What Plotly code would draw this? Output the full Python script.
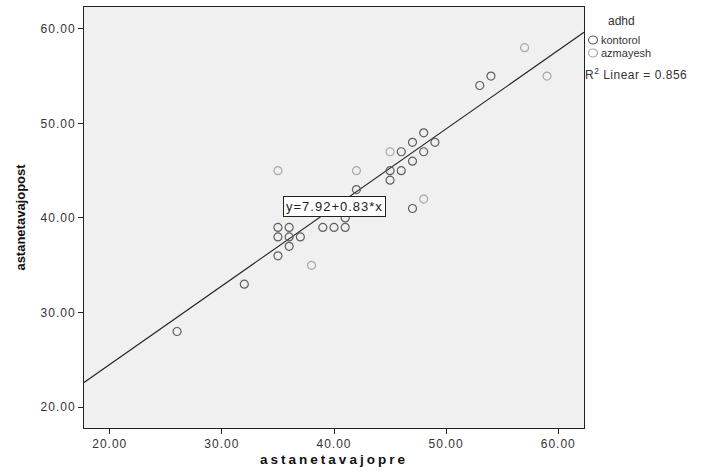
import plotly.graph_objects as go

# ---- data ----
kontorol_x = [26, 32, 35, 36, 35, 36, 37, 35, 36, 39, 40, 41, 41, 42, 45, 45, 46, 47, 46, 48, 47, 49, 48, 47, 53, 54]
kontorol_y = [28, 33, 36, 37, 38, 38, 38, 39, 39, 39, 39, 39, 40, 43, 44, 45, 45, 46, 47, 47, 48, 48, 49, 41, 54, 55]
azmayesh_x = [35, 38, 42, 45, 48, 57, 59]
azmayesh_y = [45, 35, 45, 47, 42, 58, 55]

intercept = 7.92
slope = 0.83
r2 = 0.856

x_ticks = [20, 30, 40, 50, 60]
x_ticklabels = ["20.00", "30.00", "40.00", "50.00", "60.00"]
y_ticks = [20, 30, 40, 50, 60]
y_ticklabels = ["20.00", "30.00", "40.00", "50.00", "60.00"]

x_range = [17.7, 62.3]
y_range = [17.8, 62.3]

W, H = 702, 474
L, R, T, B = 84, 118, 7, 46
PW, PH = W - L - R, H - T - B


def px(xp):
    return (xp - L) / PW


def py(yp):
    return (H - B - yp) / PH


def spaced(t, s):
    return "<span style='letter-spacing:%spx'>%s</span>" % (s, t)


fig = go.Figure()

# regression line
fig.add_trace(go.Scatter(
    x=x_range, y=[intercept + slope * v for v in x_range],
    mode="lines", line=dict(color="#222222", width=1.1),
    showlegend=False, hoverinfo="skip"))

fig.add_trace(go.Scatter(
    x=kontorol_x, y=kontorol_y, mode="markers", name="kontorol",
    marker=dict(symbol="circle-open", size=8, color="#5e5e5e", line=dict(width=1.2)),
    showlegend=False))
fig.add_trace(go.Scatter(
    x=azmayesh_x, y=azmayesh_y, mode="markers", name="azmayesh",
    marker=dict(symbol="circle-open", size=8, color="#a8a8a8", line=dict(width=1.2)),
    showlegend=False))

font_fam = "Liberation Sans, Arial, sans-serif"

fig.update_layout(
    width=W, height=H,
    margin=dict(l=L, r=R, t=T, b=B, pad=0),
    paper_bgcolor="white",
    plot_bgcolor="#f0f0f0",
    font=dict(family=font_fam, color="#333333", size=12),
    xaxis=dict(
        range=x_range, tickvals=x_ticks,
        ticktext=[spaced(t, 1) for t in x_ticklabels],
        showgrid=False, zeroline=False,
        showline=True, linecolor="#222222", linewidth=1, mirror=True,
        ticks="outside", ticklen=5, tickcolor="#222222",
        tickfont=dict(size=12, color="#333333"),
        title=dict(text="<b>" + spaced("astanetavajopre", 3) + "</b>",
                   font=dict(size=13.5, color="#111111"), standoff=4),
    ),
    yaxis=dict(
        range=y_range, tickvals=y_ticks,
        ticktext=[spaced(t, 1) for t in y_ticklabels],
        showgrid=False, zeroline=False,
        showline=True, linecolor="#222222", linewidth=1, mirror=True,
        ticks="outside", ticklen=5, tickcolor="#222222",
        tickfont=dict(size=12, color="#333333"),
        title=dict(text="<b>astanetavajopost</b>",
                   font=dict(size=13, color="#111111"), standoff=12),
    ),
)

# equation label
fig.add_annotation(
    x=40.0, y=41.2, xref="x", yref="y",
    text=spaced("y=%.2f+%.2f*x" % (intercept, slope), 1),
    showarrow=False, font=dict(size=13, color="#222222"),
    bgcolor="white", bordercolor="#222222", borderwidth=1, borderpad=2)

# legend (custom)
fig.add_annotation(x=px(621), y=py(21), xref="paper", yref="paper",
                   text="adhd", showarrow=False, xanchor="center", yanchor="middle",
                   font=dict(size=12, color="#333333"))
fig.add_annotation(x=px(599), y=py(40), xref="paper", yref="paper",
                   text="kontorol", showarrow=False, xanchor="left", yanchor="middle",
                   font=dict(size=11, color="#333333"))
fig.add_annotation(x=px(599), y=py(53), xref="paper", yref="paper",
                   text="azmayesh", showarrow=False, xanchor="left", yanchor="middle",
                   font=dict(size=11, color="#333333"))
fig.add_annotation(x=px(583), y=py(74), xref="paper", yref="paper",
                   text=spaced("R<sup>2</sup> Linear = %.3f" % r2, 0.5),
                   showarrow=False, xanchor="left", yanchor="middle",
                   font=dict(size=12, color="#333333"))
for yy, col in [(40, "#5e5e5e"), (53, "#a8a8a8")]:
    fig.add_shape(type="circle", xref="paper", yref="paper",
                  xsizemode="pixel", ysizemode="pixel",
                  xanchor=px(593), yanchor=py(yy),
                  x0=-4.5, x1=4.5, y0=-4, y1=4,
                  line=dict(color=col, width=1.2))

fig.write_html("out.html",
               config={"displayModeBar": False},
               post_script="document.body.style.margin='0';document.body.style.overflow='hidden';")
